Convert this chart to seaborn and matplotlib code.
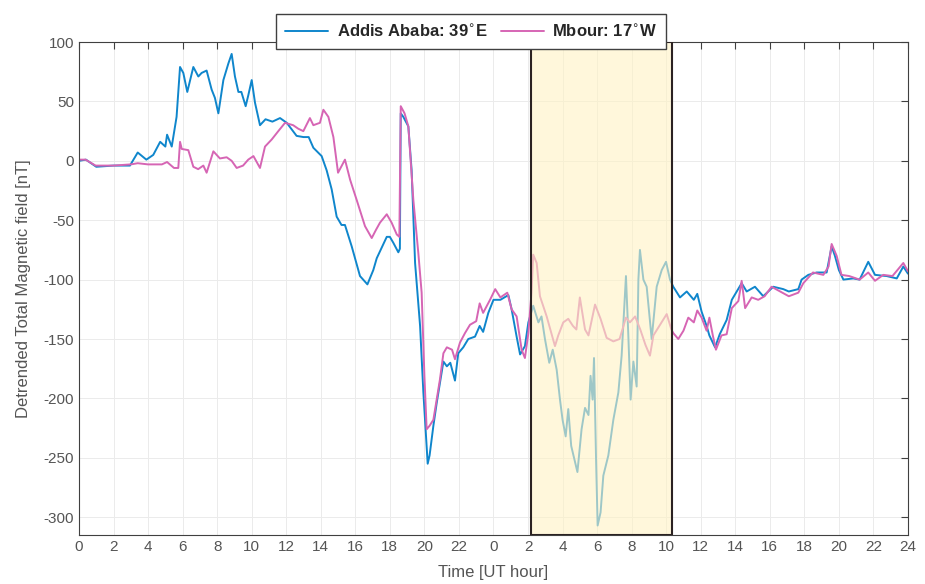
import numpy as np
import pandas as pd
import matplotlib
matplotlib.use('Agg')
import matplotlib.pyplot as plt
from matplotlib.patches import Rectangle
import seaborn as sns

# Addis Ababa (39 E) detrended total field, hours since 00 UT day 1
addis_hours = [0, 0.4, 1.0, 2.0, 2.95, 3.4, 3.9, 4.3, 4.7, 5.0, 5.1, 5.37, 5.65, 5.85, 6.04, 6.27,
               6.62, 6.91, 7.1, 7.39, 7.68, 7.87, 8.07, 8.36, 8.65, 8.84, 9.03, 9.23, 9.4, 9.65, 9.8,
               10.0, 10.19, 10.48, 10.8, 11.2, 11.64, 12.03, 12.6, 13.0, 13.3, 13.57, 14.05, 14.34,
               14.63, 14.92, 15.2, 15.4, 15.79, 16.27, 16.7, 17.04, 17.24, 17.53, 17.82, 18.0, 18.2,
               18.49, 18.58, 18.63, 18.78, 19.07, 19.26, 19.46, 19.75, 19.94, 20.19, 20.3, 20.52,
               20.71, 21.1, 21.3, 21.5, 21.77, 21.96, 22.25, 22.54, 22.93, 23.2, 23.4, 23.7, 24.0,
               24.4, 24.86, 25.05, 25.34, 25.54, 25.82, 26.02, 26.3, 26.6, 26.78, 26.98, 27.23, 27.43,
               27.66, 27.85, 28.0, 28.18, 28.33, 28.5, 28.86, 29.1, 29.3, 29.5, 29.62, 29.74, 29.82,
               29.94, 30.03, 30.2, 30.36, 30.65, 30.94, 31.23, 31.42, 31.67, 31.8, 31.94, 32.1, 32.29,
               32.39, 32.48, 32.68, 32.87, 33.16, 33.45, 33.74, 33.99, 34.22, 34.41, 34.8, 35.19,
               35.6, 35.8, 36.05, 36.34, 36.5, 36.83, 37.1, 37.5, 37.8, 38.37, 38.66, 39.14, 39.62,
               40.2, 40.78, 41.1, 41.65, 41.84, 42.23, 42.71, 43.29, 43.58, 43.77, 44.0, 44.26, 44.83,
               45.2, 45.7, 46.09, 46.77, 47.35, 47.73, 48.0]
addis_nt = [0, 1, -5, -4, -4, 7, 1, 5, 16, 12, 22, 12, 37, 79, 74, 58,
            79, 71, 74, 76, 60, 53, 40, 68, 82, 90, 71, 58, 58, 46, 55,
            68, 49, 30, 35, 33, 36, 32, 21, 20, 20, 11, 4, -8,
            -24, -47, -54, -54, -72, -97, -104, -92, -82, -73, -64, -64, -69,
            -77, -74, 40, 37, 29, -8, -86, -139, -195, -255, -248, -223,
            -204, -169, -173, -170, -185, -162, -157, -150, -148, -139, -144, -128, -117,
            -117, -113, -125, -148, -163, -156, -136, -122, -136, -131, -150, -170, -159,
            -176, -201, -218, -232, -209, -240, -262, -226, -208, -214, -181, -201, -166,
            -252, -307, -296, -265, -248, -218, -195, -164, -97, -144, -201, -169, -190,
            -100, -75, -100, -106, -150, -106, -92, -85, -100, -106, -115, -110,
            -117, -112, -127, -139, -147, -157, -146, -134, -117, -103, -110, -106, -114,
            -106, -108, -110, -108, -100, -96, -94, -94, -72, -80, -92, -100, -99,
            -100, -85, -96, -97, -99, -89, -95]

# Mbour (17 W)
mbour_hours = [0, 0.38, 0.96, 2.0, 3.0, 3.4, 4.0, 4.8, 5.1, 5.5, 5.75, 5.85, 5.95, 6.33, 6.62, 6.9,
               7.2, 7.39, 7.78, 8.16, 8.55, 8.84, 9.13, 9.5, 9.8, 10.1, 10.48, 10.77, 11.16, 11.54,
               11.93, 12.4, 12.7, 12.99, 13.37, 13.57, 13.95, 14.15, 14.44, 14.73, 15.0, 15.4, 15.7,
               16.08, 16.56, 16.95, 17.2, 17.43, 17.82, 18.1, 18.4, 18.55, 18.63, 18.85, 19.07, 19.36,
               19.65, 19.84, 20.0, 20.13, 20.3, 20.52, 20.71, 20.9, 21.1, 21.3, 21.6, 21.77, 22.06,
               22.35, 22.64, 23.0, 23.2, 23.4, 23.8, 24.1, 24.4, 24.8, 25.05, 25.34, 25.63, 25.82,
               26.02, 26.2, 26.3, 26.5, 26.69, 27.08, 27.56, 27.75, 28.04, 28.33, 28.6, 28.8, 29.0,
               29.3, 29.5, 29.88, 30.2, 30.55, 30.94, 31.3, 31.67, 31.9, 32.2, 32.5, 32.8, 33.06,
               33.26, 33.6, 34.03, 34.3, 34.41, 34.7, 35.0, 35.28, 35.6, 35.8, 36.05, 36.34, 36.5,
               36.7, 36.88, 37.2, 37.5, 37.8, 38.18, 38.37, 38.57, 38.95, 39.33, 39.7, 40.1, 40.6,
               41.1, 41.65, 41.94, 42.5, 43.1, 43.4, 43.58, 43.87, 44.15, 44.6, 45.2, 45.7, 46.09,
               46.57, 47.1, 47.73, 48.0]
mbour_nt = [1, 1, -4, -4, -3, -2, -3, -3, -1, -6, -6, 16, 10, 9, -5, -7,
            -4, -10, 8, 2, 3, 0, -6, -4, 1, 4, -6, 12, 18, 25,
            32, 30, 27, 25, 36, 30, 32, 43, 37, 20, -10, 1, -16,
            -33, -55, -65, -58, -52, -45, -52, -62, -64, 46, 40, 29, -33,
            -78, -111, -181, -226, -223, -218, -201, -184, -162, -157, -159, -167, -153,
            -145, -138, -135, -120, -128, -117, -108, -115, -111, -125, -131, -159, -166,
            -145, -111, -79, -86, -114, -131, -156, -147, -136, -133, -139, -142, -115,
            -142, -147, -121, -133, -149, -152, -150, -132, -136, -131, -142, -155, -164,
            -147, -139, -129, -142, -145, -150, -143, -132, -136, -126, -132, -143, -132,
            -147, -159, -147, -146, -124, -118, -101, -124, -115, -117, -114, -106, -110,
            -114, -111, -103, -94, -96, -89, -70, -80, -96, -97, -100, -94, -101,
            -96, -97, -86, -93]

tick_hours = list(range(0, 49, 2))
tick_labels = [str(h % 24) if h < 48 else '24' for h in tick_hours]
event_start, event_end = 26.15, 34.35

sns.set_style('white')
plt.rcParams['font.family'] = ['Liberation Sans', 'DejaVu Sans']
plt.rcParams['axes.unicode_minus'] = False

fig = plt.figure(figsize=(9.25, 5.84), dpi=100)
ax = fig.add_axes([0.0854, 0.0839, 0.8962, 0.8441])

df_a = pd.DataFrame({'hora': addis_hours, 'campo': addis_nt})
df_m = pd.DataFrame({'hora': mbour_hours, 'campo': mbour_nt})

sns.lineplot(data=df_a, x='hora', y='campo', ax=ax, color='#0f86cc', lw=1.4,
             label=r'Addis Ababa: 39$^{\circ}$E', sort=False, estimator=None)
sns.lineplot(data=df_m, x='hora', y='campo', ax=ax, color='#d665b4', lw=1.4,
             label=r'Mbour: 17$^{\circ}$W', sort=False, estimator=None)

# highlighted interval (drawn over the lines, semi transparent)
ax.add_patch(Rectangle((event_start, -315), event_end - event_start, 415,
                       facecolor='#fff3c4', alpha=0.6, edgecolor='none', zorder=3))
ax.add_patch(Rectangle((event_start, -315), event_end - event_start, 415,
                       facecolor='none', edgecolor='#2b2222', lw=1.5, zorder=4))

ax.set_xlim(0, 48)
ax.set_ylim(-315, 100)
ax.set_xticks(tick_hours)
ax.set_xticklabels(tick_labels)
ax.set_yticks(range(-300, 101, 50))
ax.grid(True, color='#ebebeb', lw=0.7)
ax.tick_params(direction='in', length=5, width=0.8, colors='#404040', labelsize=11,
               top=True, right=True, labelcolor='#555555')
for s in ax.spines.values():
    s.set_color('#404040')
    s.set_linewidth(0.8)

ax.set_xlabel('Time [UT hour]', fontsize=12, color='#555555', labelpad=8)
ax.set_ylabel('Detrended Total Magnetic field [nT]', fontsize=12, color='#555555', labelpad=9)

ax.legend(loc='lower center', bbox_to_anchor=(0.473, 0.985), ncol=2, frameon=True,
          fancybox=False, edgecolor='#404040', framealpha=1, handlelength=2.6,
          handletextpad=0.5, columnspacing=0.8, prop={'weight': 'bold', 'size': 12},
          borderpad=0.55, borderaxespad=0.0)

fig.savefig('out.png', dpi=100)
